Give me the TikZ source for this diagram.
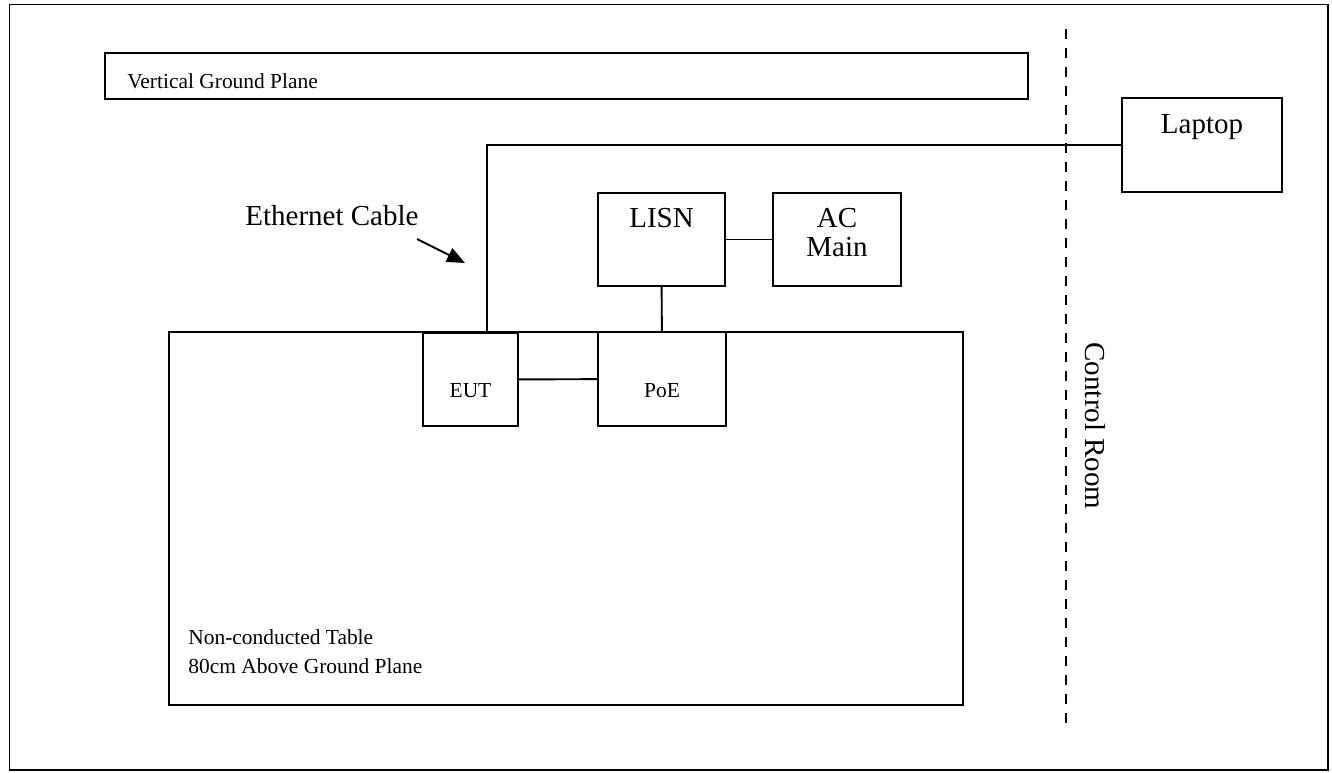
\documentclass[tikz,border=0pt]{standalone}
\usepackage{fontspec}
\setmainfont{Liberation Serif}
\usepackage{tikz}
\usetikzlibrary{arrows.meta}
\usetikzlibrary{positioning}
\usetikzlibrary{calc}
\tikzstyle{frame}=[draw,line width=1pt]
\tikzstyle{box}=[rectangle,draw,line width=1.1pt,inner sep=0pt]
\tikzstyle{small}=[font=\fontsize{12.2}{16}\selectfont,inner sep=0pt]
\tikzstyle{big}=[font=\fontsize{16.5}{16.5}\selectfont,inner sep=0pt]
\tikzstyle{link}=[line width=1.1pt]
\tikzstyle{border}=[line width=1.6pt,dash pattern=on 0.19cm off 0.19cm]
\tikzstyle{pointer}=[-{Triangle[length=0.36cm,width=0.3cm]},line width=1.1pt]

\begin{document}
\begin{tikzpicture}
\useasboundingbox (0,0) rectangle (26.64,-15.44);
\draw[frame] (0.19,-0.09) rectangle (26.56,-15.40);
\node[box,minimum width=18.46cm,minimum height=0.92cm] (gp) at (11.33,-1.52) {};
\node[small,anchor=base west] (gptxt) at (2.54,-1.76) {Vertical Ground Plane};
\node[box,minimum width=15.88cm,minimum height=7.46cm] (table) at (11.32,-10.37) {};
\node[small,anchor=base west,align=left] (tabletxt) at (3.76,-13.46) {Non-conducted Table\\80cm Above Ground Plane};
\node[box,minimum width=1.9cm,minimum height=1.86cm] (eut) at (9.41,-7.59) {};
\node[small,anchor=base] (euttxt) at (9.41,-7.94) {EUT};
\node[box,minimum width=2.56cm,minimum height=1.88cm] (poe) at (13.24,-7.58) {};
\node[small,anchor=base] (poetxt) at (13.24,-7.94) {PoE};
\node[box,minimum width=2.54cm,minimum height=1.86cm] (lisn) at (13.23,-4.79) {};
\node[big,anchor=base] (lisntxt) at (13.23,-4.54) {LISN};
\node[box,minimum width=2.56cm,minimum height=1.86cm] (ac) at (16.74,-4.79) {};
\node[big,anchor=base,align=center] (actxt) at (16.74,-5.12) {AC\\Main};
\node[box,minimum width=3.2cm,minimum height=1.88cm] (laptop) at (24.04,-2.90) {};
\node[big,anchor=base] (laptoptxt) at (24.04,-2.66) {Laptop};
\node[big,anchor=base west] (ethtxt) at (4.9,-4.5) {Ethernet Cable};
\node[big,rotate=-90] (crtxt) at (21.9,-8.52) {Control Room};
\coordinate (crtop) at (21.32,-0.58);
\coordinate (crbot) at (21.32,-14.46);
\coordinate (ethfrom) at (8.34,-4.78);
\coordinate (ethto) at (9.30,-5.26);
%connections
\draw[link] (lisn) -- (poe);
\draw[link] (lisn) -- (ac);
\draw[link] (eut) -- (poe);
\draw[link] ([xshift=0.33cm]eut.north) |- (laptop.west);
\draw[border] (crtop) -- (crbot);
\draw[pointer] (ethfrom) -- (ethto);
\end{tikzpicture}
\end{document}
